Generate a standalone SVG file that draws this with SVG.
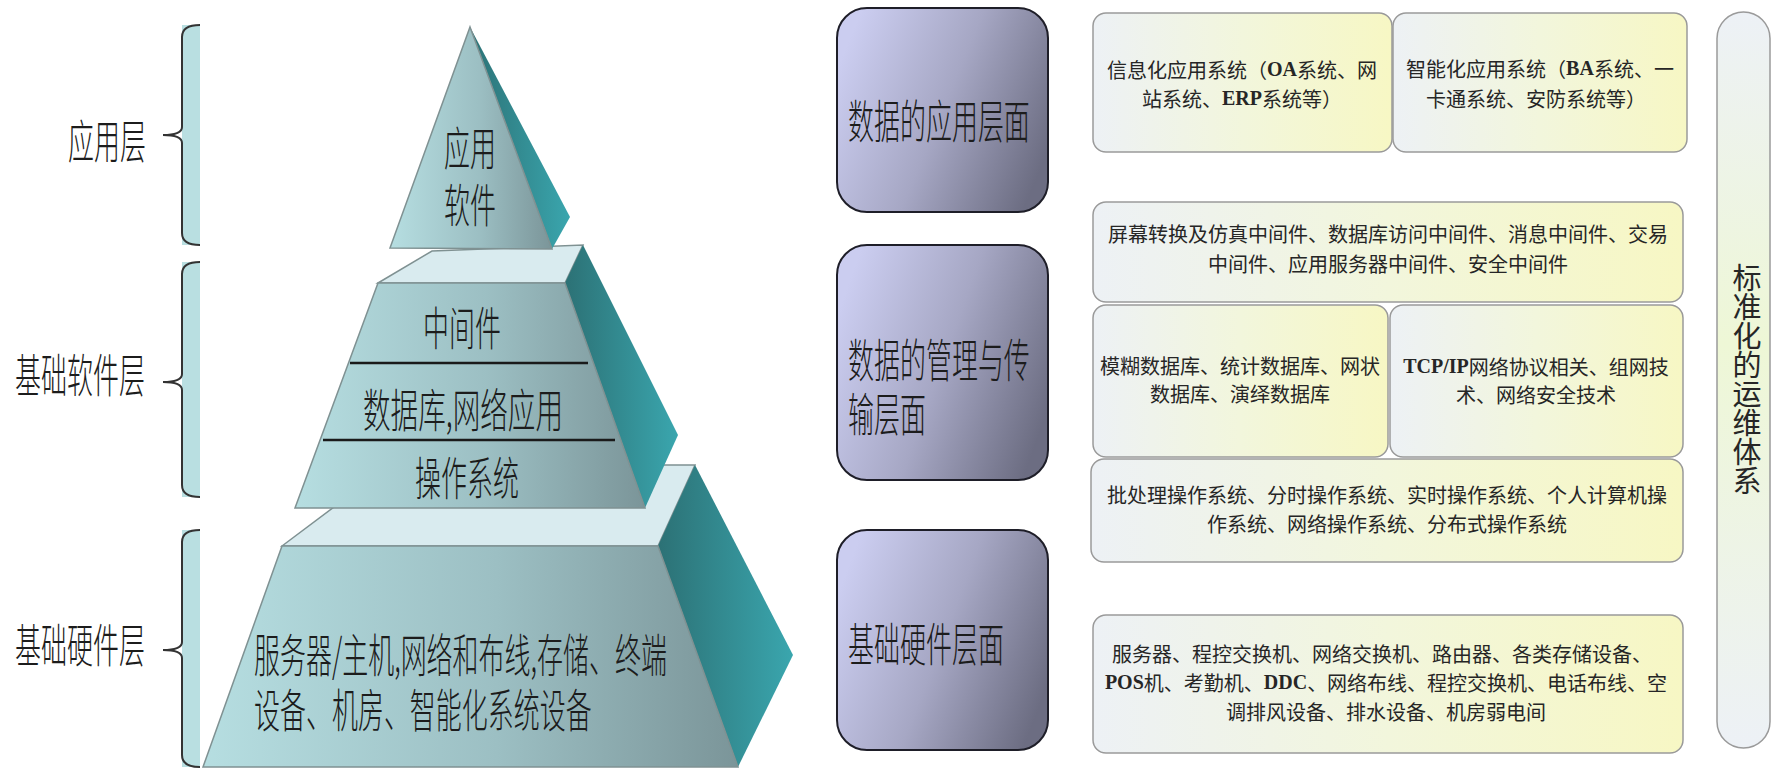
<svg xmlns="http://www.w3.org/2000/svg" width="1776" height="770" viewBox="0 0 1776 770">
<style>
.big{font-family:"Noto Sans CJK SC","Noto Sans",sans-serif;font-size:46px;font-weight:300;fill:#1c1c1c;dominant-baseline:central}
.sm{font-family:"Noto Sans CJK SC","Noto Sans",sans-serif;font-size:20px;fill:#262626;text-anchor:middle;dominant-baseline:central}
.lat{font-family:"Liberation Serif",serif;font-weight:bold}
.vt{font-family:"Noto Sans CJK SC",sans-serif;font-size:29px;fill:#262626;text-anchor:middle;writing-mode:vertical-rl}
.brace{fill:none;stroke:#333;stroke-width:2}
.strip{fill:#b9dfe1}
.front{fill:url(#gFront);stroke:#7f9192;stroke-width:1.5}
.top{fill:#d9ebef;stroke:#7f9192;stroke-width:1.5}
.side{fill:url(#gSide);stroke:none}
.pbox{fill:url(#gPurple);stroke:#1e1e28;stroke-width:2}
.ybox{fill:url(#gYellow);stroke:#9a9a9a;stroke-width:1.5}
.div{stroke:#1a1a1a;stroke-width:2.5}
</style>
<defs>
<linearGradient id="gFront" x1="0" y1="0" x2="1" y2="0">
<stop offset="0" stop-color="#b6dee1"/><stop offset="0.55" stop-color="#9cbfc3"/><stop offset="1" stop-color="#7b9599"/>
</linearGradient>
<linearGradient id="gSide" x1="0" y1="0" x2="1" y2="0">
<stop offset="0" stop-color="#2c7175"/><stop offset="1" stop-color="#3aa6ae"/>
</linearGradient>
<linearGradient id="gPurple" x1="0" y1="0.3" x2="1" y2="0.7">
<stop offset="0" stop-color="#cbcdf0"/><stop offset="0.5" stop-color="#a6a7c4"/><stop offset="1" stop-color="#6c6d82"/>
</linearGradient>
<linearGradient id="gYellow" x1="0" y1="0" x2="1" y2="0">
<stop offset="0" stop-color="#edf1f5"/><stop offset="0.5" stop-color="#f2f6dc"/><stop offset="1" stop-color="#f7f7c4"/>
</linearGradient>
<linearGradient id="gCap" x1="0" y1="0" x2="0" y2="1">
<stop offset="0" stop-color="#edf1f6"/><stop offset="0.45" stop-color="#eef7d6"/><stop offset="1" stop-color="#edf1f6"/>
</linearGradient>
</defs>

<g id="brackets">
<g id="bracket-app">
<rect class="strip" x="182" y="25" width="18" height="220"/>
<path class="brace" d="M200,25 C190,25 182,28 182,37 L182,127 C182,132 175,135 163,135 C175,135 182,138 182,143 L182,233 C182,242 190,245 200,245"/>
<text class="big" transform="translate(68,138) scale(0.565,1)">应用层</text>
</g>
<g id="bracket-sw">
<rect class="strip" x="182" y="262" width="18" height="235"/>
<path class="brace" d="M200,262 C190,262 182,265 182,274 L182,374 C182,379 175,382 163,382 C175,382 182,385 182,390 L182,485 C182,494 190,497 200,497"/>
<text class="big" transform="translate(15,372) scale(0.565,1)">基础软件层</text>
</g>
<g id="bracket-hw">
<rect class="strip" x="182" y="530" width="18" height="237"/>
<path class="brace" d="M200,530 C190,530 182,533 182,542 L182,642 C182,647 175,650 163,650 C175,650 182,653 182,658 L182,755 C182,764 190,767 200,767"/>
<text class="big" transform="translate(15,642) scale(0.565,1)">基础硬件层</text>
</g>
</g>

<g id="pyramid">
<g id="layer-hw">
<polygon class="top" points="282,546 390,465 695,465 658,546"/>
<polygon class="side" points="695,465 793,655 738,767 658,546"/>
<polygon class="front" points="282,546 658,546 738,767 203,767"/>
<text class="big" transform="translate(254,652) scale(0.565,1)"><tspan x="0" y="0">服务器/主机,网络和布线,存储、终端</tspan><tspan x="0" y="55">设备、机房、智能化系统设备</tspan></text>
</g>
<g id="layer-sw">
<polygon class="top" points="378,283 432,251 583,245 565,283"/>
<polygon class="side" points="583,245 678,435 645,508 565,283"/>
<polygon class="front" points="378,283 565,283 645,508 295,508"/>
<line class="div" x1="350" y1="363" x2="588" y2="363"/>
<line class="div" x1="323" y1="440" x2="615" y2="440"/>
<text class="big" transform="translate(423,325) scale(0.565,1)">中间件</text>
<text class="big" transform="translate(363,407) scale(0.565,1)" textLength="354" lengthAdjust="spacingAndGlyphs">数据库,网络应用</text>
<text class="big" transform="translate(415,475) scale(0.565,1)">操作系统</text>
</g>
<g id="layer-app">
<polygon class="side" points="470,27 570,217 552,249"/>
<polygon class="front" points="470,27 552,249 390,248"/>
<text class="big" transform="translate(444,145) scale(0.565,1)"><tspan x="0" y="0">应用</tspan><tspan x="0" y="57">软件</tspan></text>
</g>
</g>

<g id="levels">
<g id="level-app">
<rect class="pbox" x="837" y="8" width="211" height="204" rx="30"/>
<text class="big" transform="translate(848,118) scale(0.565,1)">数据的应用层面</text>
</g>
<g id="level-mgmt">
<rect class="pbox" x="837" y="245" width="211" height="235" rx="30"/>
<text class="big" transform="translate(848,357) scale(0.565,1)"><tspan x="0" y="0">数据的管理与传</tspan><tspan x="0" y="54">输层面</tspan></text>
</g>
<g id="level-hw">
<rect class="pbox" x="837" y="530" width="211" height="220" rx="30"/>
<text class="big" transform="translate(848,641) scale(0.565,1)">基础硬件层面</text>
</g>
</g>

<g id="details">
<g id="box-info">
<rect class="ybox" x="1093" y="13" width="299" height="139" rx="13"/>
<text class="sm"><tspan x="1242" y="69">信息化应用系统（<tspan class="lat">OA</tspan>系统、网</tspan><tspan x="1242" y="98">站系统、<tspan class="lat">ERP</tspan>系统等）</tspan></text>
</g>
<g id="box-smart">
<rect class="ybox" x="1393" y="13" width="294" height="139" rx="13"/>
<text class="sm"><tspan x="1540" y="68">智能化应用系统（<tspan class="lat">BA</tspan>系统、一</tspan><tspan x="1536" y="98">卡通系统、安防系统等）</tspan></text>
</g>
<g id="box-mw">
<rect class="ybox" x="1093" y="202" width="590" height="100" rx="13"/>
<text class="sm"><tspan x="1388" y="233">屏幕转换及仿真中间件、数据库访问中间件、消息中间件、交易</tspan><tspan x="1388" y="263">中间件、应用服务器中间件、安全中间件</tspan></text>
</g>
<g id="box-db">
<rect class="ybox" x="1093" y="305" width="295" height="152" rx="13"/>
<text class="sm"><tspan x="1240" y="365">模糊数据库、统计数据库、网状</tspan><tspan x="1240" y="393">数据库、演绎数据库</tspan></text>
</g>
<g id="box-net">
<rect class="ybox" x="1390" y="305" width="293" height="152" rx="13"/>
<text class="sm"><tspan x="1536" y="366"><tspan class="lat">TCP/IP</tspan>网络协议相关、组网技</tspan><tspan x="1536" y="394">术、网络安全技术</tspan></text>
</g>
<g id="box-os">
<rect class="ybox" x="1091" y="459" width="592" height="103" rx="13"/>
<text class="sm"><tspan x="1387" y="494">批处理操作系统、分时操作系统、实时操作系统、个人计算机操</tspan><tspan x="1387" y="523">作系统、网络操作系统、分布式操作系统</tspan></text>
</g>
<g id="box-hw">
<rect class="ybox" x="1093" y="615" width="590" height="138" rx="13"/>
<text class="sm"><tspan x="1382" y="653">服务器、程控交换机、网络交换机、路由器、各类存储设备、</tspan><tspan x="1386" y="682"><tspan class="lat">POS</tspan>机、考勤机、<tspan class="lat">DDC</tspan>、网络布线、程控交换机、电话布线、空</tspan><tspan x="1386" y="711">调排风设备、排水设备、机房弱电间</tspan></text>
</g>
</g>

<g id="ops">
<rect x="1717" y="12" width="53" height="736" rx="26.5" fill="url(#gCap)" stroke="#9a9a9a" stroke-width="1.5"/>
<text class="vt" x="1747" y="379">标准化的运维体系</text>
</g>

<g id="connectors"></g>
</svg>
